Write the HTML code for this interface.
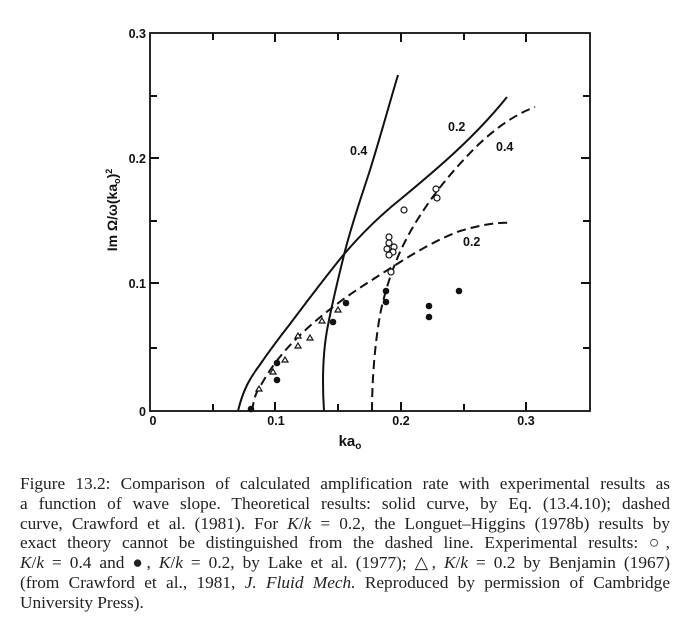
<!DOCTYPE html>
<html><head><meta charset="utf-8"><style>
body{margin:0;background:#fff;width:697px;height:632px;overflow:hidden;position:relative}
.cap{position:absolute;left:20px;width:650px;font-family:"Liberation Serif",serif;font-size:17.3px;color:#222;white-space:nowrap;line-height:20px}
.j{text-align:justify;text-align-last:justify;white-space:normal}
</style></head><body>
<svg width="697" height="470" style="position:absolute;left:0;top:0" font-family="Liberation Sans, sans-serif">
<g stroke="#111" stroke-width="2" fill="none">
<rect x="150" y="33" width="440" height="378" stroke-width="1.8"/>
<path d="M213 411v-7M275 411v-9M338 411v-7M401 411v-9M464 411v-7M526 411v-9M213 33v7M275 33v9M338 33v7M401 33v9M464 33v7M526 33v9"/>
<path d="M150 348h7M150 283h9M150 221h7M150 158h9M150 96h7M590 348h-7M590 283h-9M590 221h-7M590 158h-9M590 96h-7"/>
<!-- solid 0.2 -->
<path d="M238 411 C243 390,250 378,259 366 C270 350,279 338,290 324 C308 300,326 276,345 253 C364 231,383 213,402 198 C437 169,475 137,507 97"/>
<!-- solid 0.4 -->
<path d="M324 411 C322 380,323 350,328 325 C334 295,339 275,345 251 C353 220,362 195,370 170 C380 138,389 105,398 75"/>
<!-- dashed 0.2 -->
<path stroke-dasharray="9,5" d="M252 411 C254 398,256 392,261 385 C270 369,281 354,295 340 C318 317,345 297,372 280 C400 262,430 242,460 231 C480 225,497 222,512 223"/>
<!-- dashed 0.4 -->
<path stroke-dasharray="9,5" d="M372 411 C372 380,375 340,381 310 C389 275,400 248,416 222 C435 191,455 168,478 145 C497 127,516 114,535 107"/>
</g>
<g fill="#111">
<circle cx="251" cy="409" r="3.3"/><circle cx="277" cy="363" r="3.3"/><circle cx="277" cy="380" r="3.3"/>
<circle cx="333" cy="322" r="3.3"/><circle cx="346" cy="303" r="3.3"/><circle cx="386" cy="291" r="3.3"/>
<circle cx="386" cy="302" r="3.3"/><circle cx="429" cy="306" r="3.3"/><circle cx="429" cy="317" r="3.3"/><circle cx="459" cy="291" r="3.3"/>
</g>
<g fill="#fff" stroke="#111" stroke-width="1.2">
<circle cx="436" cy="189" r="3"/><circle cx="437" cy="198" r="3"/><circle cx="404" cy="210" r="3"/>
<circle cx="389" cy="237" r="3"/><circle cx="389" cy="243" r="3"/><circle cx="394" cy="247" r="3"/>
<circle cx="387" cy="249" r="3"/><circle cx="393" cy="252" r="3"/><circle cx="389" cy="255" r="3"/><circle cx="391" cy="272" r="3"/>
<path d="M259 386l3 5h-6zM273 369l3 5h-6zM285 357l3 5h-6zM298 333l3 5h-6zM298 343l3 5h-6zM310 335l3 5h-6zM322 318l3 5h-6zM338 307l3 5h-6z"/>
</g>
<g font-size="12.5" font-weight="bold" fill="#111">
<text x="350" y="155">0.4</text><text x="448" y="131">0.2</text>
<text x="496" y="151">0.4</text><text x="463" y="246">0.2</text>
<g text-anchor="end"><text x="146" y="38">0.3</text><text x="146" y="163">0.2</text><text x="146" y="288">0.1</text><text x="146" y="416">0</text></g>
<g text-anchor="middle"><text x="153" y="425">0</text><text x="276" y="425">0.1</text><text x="401" y="425">0.2</text><text x="526" y="425">0.3</text></g>
<text x="350" y="446" font-size="15" text-anchor="middle">ka<tspan font-size="10" dy="3">o</tspan></text>
<text transform="translate(117,210) rotate(-90)" text-anchor="middle" font-size="14">Im Ω/ω(ka<tspan font-size="9" dy="3">o</tspan><tspan dy="-3">)</tspan><tspan font-size="9" dy="-5">2</tspan></text>
</g>
</svg>
<div class="cap j" style="top:474px">Figure 13.2: Comparison of calculated amplification rate with experimental results as</div>
<div class="cap j" style="top:494px">a function of wave slope. Theoretical results: solid curve, by Eq. (13.4.10); dashed</div>
<div class="cap j" style="top:514px">curve, Crawford et al. (1981). For <i>K</i>/<i>k</i> = 0.2, the Longuet–Higgins (1978b) results by</div>
<div class="cap j" style="top:533px">exact theory cannot be distinguished from the dashed line. Experimental results: ○,</div>
<div class="cap j" style="top:553px"><i>K</i>/<i>k</i> = 0.4 and ●, <i>K</i>/<i>k</i> = 0.2, by Lake et al. (1977); △, <i>K</i>/<i>k</i> = 0.2 by Benjamin (1967)</div>
<div class="cap j" style="top:573px">(from Crawford et al., 1981, <i>J. Fluid Mech.</i> Reproduced by permission of Cambridge</div>
<div class="cap" style="top:593px">University Press).</div>
</body></html>
